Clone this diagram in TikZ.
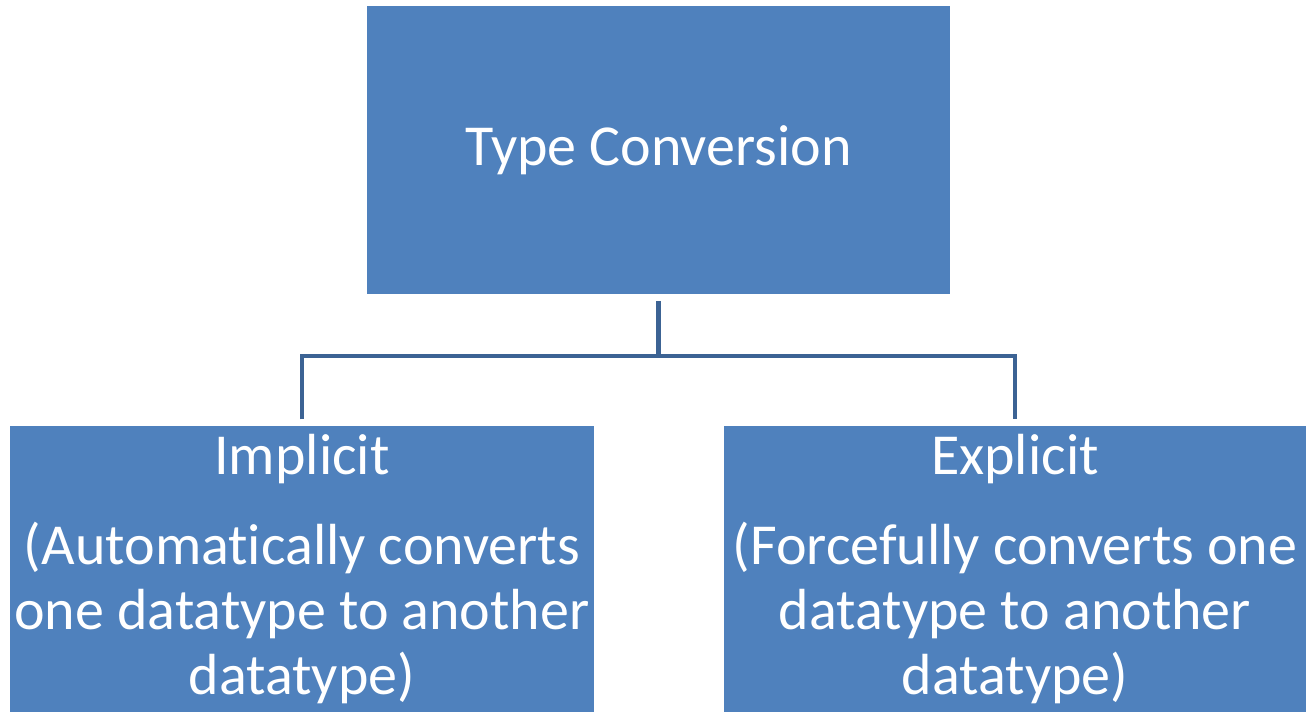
\documentclass[tikz,border=0pt]{standalone}
\usepackage{fontspec}
\setmainfont{Carlito}[Ligatures=NoCommon]
\usepackage{xcolor}
\usetikzlibrary{positioning, calc}

\definecolor{boxblue}{HTML}{4F81BD}
\definecolor{linkblue}{HTML}{3C6394}

\begin{document}
\begin{tikzpicture}[
    box/.style={rectangle, fill=boxblue, text=white, align=center, inner sep=0pt,
        font=\fontsize{33}{37}\selectfont},
    topbox/.style={box, minimum width=11.66cm, minimum height=5.76cm},
    leafbox/.style={box, minimum width=11.66cm, minimum height=5.74cm},
    link/.style={draw=linkblue, line width=2.3pt}
]
    % --- 1. Canvas ---
    \useasboundingbox (0,0) rectangle (26.12,-14.24);
    % --- 2. Boxes ---
    \node (top) [topbox] at (13.17,-3.0) {Type Conversion};
    \node (implicit) [leafbox, below=2.62cm of top, xshift=-7.13cm]
        {Implicit\\[14pt](Automatically converts\\one datatype to another\\datatype)};
    \node (explicit) [leafbox, below=2.62cm of top, xshift=7.13cm]
        {Explicit\\[14pt](Forcefully converts one\\datatype to another\\datatype)};
    % --- 3. Connectors ---
    \coordinate (bus) at ($(top.south)+(0,-1.24)$);
    \draw[link] ([yshift=-0.13cm]top.south) -- (bus);
    \draw[link] ([yshift=0.12cm]implicit.north) |- (bus) -| ([yshift=0.12cm]explicit.north);
\end{tikzpicture}
\end{document}
